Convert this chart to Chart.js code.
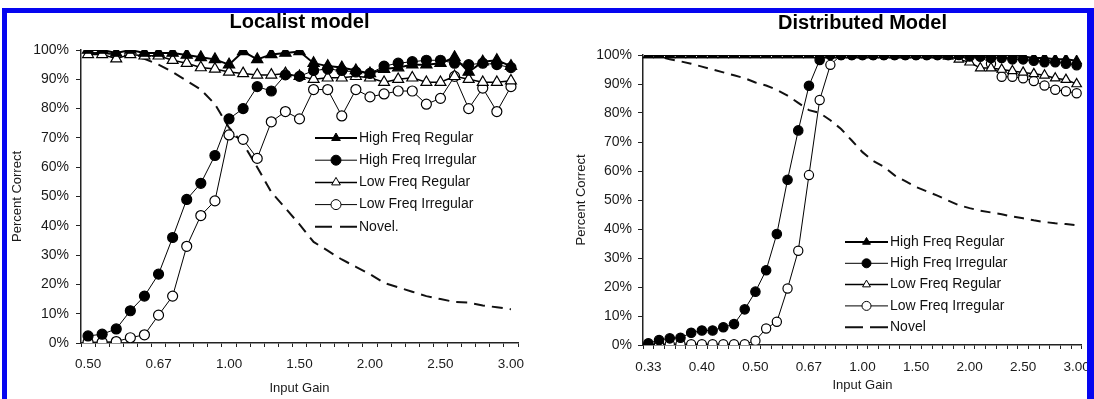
<!DOCTYPE html>
<html>
<head>
<meta charset="utf-8">
<script src="https://cdn.jsdelivr.net/npm/chart.js@4.4.0/dist/chart.umd.min.js"></script>
<style>
  html, body { margin: 0; padding: 0; background: #fff; }
  body { width: 1094px; height: 399px; position: relative; overflow: hidden; }
  .box { position: absolute; top: 0; height: 399px; }
  #left { left: 0; width: 545px; }
  #right { left: 545px; width: 555px; }
  .frame { position: absolute; background: #0505f0; }
</style>
</head>
<body>
<div class="box" id="left"><canvas id="localist"></canvas></div>
<div class="box" id="right"><canvas id="distributed"></canvas></div>
<div class="frame" style="left:2px;top:8px;width:1092px;height:5px"></div>
<div class="frame" style="left:2px;top:8px;width:5px;height:391px"></div>
<div class="frame" style="left:1087px;top:8px;width:7px;height:391px"></div>
<script>
// localist model (input gain 0.50 .. 3.00)
let locGain = ['0.50', '0.53', '0.56', '0.59', '0.63', '0.67', '0.71', '0.77', '0.83', '0.91',
  '1.00', '1.10', '1.20', '1.30', '1.40', '1.50', '1.60', '1.70', '1.80', '1.90',
  '2.00', '2.10', '2.20', '2.30', '2.40', '2.50', '2.60', '2.70', '2.80', '2.90', '3.00']
let locTickLabels = ['0.50', '0.67', '1.00', '1.50', '2.00', '2.50', '3.00']
let locHighReg = [100, 100, 99, 100, 99, 99, 99, 98.3, 97.5, 96.8, 95, 99.5, 96.8, 98.5, 99, 99.5,
  95.5, 94.5, 94, 93, 92, 93.5, 94, 95, 95, 95.5, 97.5, 92.5, 96, 96.5, 94.5]
let locHighIrreg = [2.4, 3, 4.8, 11, 16, 23.5, 36, 49, 54.5, 64, 76.5, 80, 87.5, 86, 91.5, 91,
  93, 93.5, 93, 92.5, 92, 94.5, 95.5, 96, 96.5, 96.5, 95.5, 95, 95.5, 95, 94]
let locLowReg = [98.5, 98.5, 97, 98.5, 98, 98, 96.5, 95.5, 94, 93.5, 92.5, 92, 91.5, 91.5, 92, 91,
  90, 90.5, 90.5, 91, 90.5, 89, 90, 90.5, 89, 89, 91, 90, 89, 89, 89.5]
let locLowIrreg = [0.3, 0.3, 0.5, 1.8, 2.8, 9.5, 16, 33, 43.5, 48.5, 71, 69.5, 63, 75.5, 79, 76.5,
  86.5, 86.5, 77.5, 86.5, 84, 85, 86, 86, 81.5, 83.5, 91, 80, 87, 79, 87.5]
let locNovel = [99, 99, 98.5, 98, 97, 95, 92.5, 89.5, 86.5, 81.5, 73.5, 68, 60, 51.5, 46, 40.5,
  34.5, 31.5, 28.5, 26, 23.5, 20.5, 19, 17.5, 16, 15, 14, 13.8, 12.8, 12.2, 11.5]

// distributed model (input gain 0.33 .. 3.00)
let distGain = ['0.33', '0.34', '0.36', '0.37', '0.38', '0.40', '0.42', '0.43', '0.45', '0.48',
  '0.50', '0.53', '0.56', '0.59', '0.63', '0.67', '0.71', '0.77', '0.83', '0.91',
  '1.00', '1.10', '1.20', '1.30', '1.40', '1.50', '1.60', '1.70', '1.80', '1.90',
  '2.00', '2.10', '2.20', '2.30', '2.40', '2.50', '2.60', '2.70', '2.80', '2.90', '3.00']
let distTickLabels = ['0.33', '0.40', '0.50', '0.67', '1.00', '1.50', '2.00', '2.50', '3.00']
let distHighReg = [100, 100, 100, 100, 100, 100, 100, 100, 100, 100, 100, 100, 100, 100, 100, 100,
  100, 100, 100, 100, 100, 100, 100, 100, 100, 100, 100, 100, 100, 100, 100, 100, 100, 100, 100,
  99.5, 99, 99, 98.5, 98.5, 98]
let distHighIrreg = [0.6, 1.7, 2.3, 2.5, 4.2, 5, 5, 6.1, 7.2, 12.3, 18.4, 25.8, 38.3, 57, 74, 89.4,
  98.3, 100, 100, 100, 100, 100, 100, 100, 100, 100, 100, 100, 100, 100, 99.5, 99.5, 99, 99, 98.5,
  98.5, 98, 97.5, 97.5, 97, 96.5]
let distLowReg = [100, 100, 100, 100, 100, 100, 100, 100, 100, 100, 100, 100, 100, 100, 100, 100,
  100, 100, 100, 100, 100, 100, 100, 100, 100, 100, 100, 100, 99.5, 98.5, 97.5, 95.5, 95.5, 95, 94.5,
  94, 93.5, 93, 92, 91.5, 90]
let distLowIrreg = [0, 0.3, 0.3, 0.3, 0.3, 0.3, 0.3, 0.3, 0.3, 0.3, 1.5, 5.7, 8, 19.5, 32.5, 58.6,
  84.5, 96.6, 100, 100, 100, 100, 100, 100, 100, 100, 100, 100, 100, 100, 100, 99.5, 97, 92.5, 92.5,
  92, 91, 89.5, 88, 87.5, 86.8]
let distNovel = [100, 99.5, 98.5, 97.8, 97, 96, 95, 94, 93, 92, 90.5, 89.5, 88, 86, 83.5, 81,
  80, 77.5, 74.5, 70.5, 66.5, 63.5, 61.5, 58.5, 56.5, 54.5, 53, 51.5, 49.8, 48.2, 47.2, 46.3, 45.7,
  45.1, 44.3, 43.7, 43, 42.4, 42, 41.7, 41.3]

Chart.defaults.font.family = '"Liberation Sans", Arial, sans-serif'
Chart.defaults.color = '#1a1a1a'

function drawMarker (ctx, style, r, x, y) {
  ctx.beginPath()
  if (style === 'triangle') {
    ctx.moveTo(x, y - r)
    ctx.lineTo(x + r * 0.866, y + r * 0.5)
    ctx.lineTo(x - r * 0.866, y + r * 0.5)
    ctx.closePath()
  } else {
    ctx.arc(x, y, r, 0, Math.PI * 2)
  }
  ctx.fill()
  ctx.stroke()
}

// legend drawn inside the plot area
const innerLegend = {
  id: 'innerLegend',
  afterDatasetsDraw (chart, args, opts) {
    const ctx = chart.ctx
    ctx.save()
    ctx.font = opts.font
    ctx.textBaseline = 'middle'
    chart.data.datasets.forEach(function (ds, i) {
      let y = opts.y + i * opts.rowHeight
      ctx.strokeStyle = ds.borderColor
      ctx.lineWidth = ds.borderWidth
      ctx.setLineDash(ds.borderDash ? opts.dash : [])
      ctx.beginPath()
      ctx.moveTo(opts.x, y)
      ctx.lineTo(opts.x + opts.lineLength, y)
      ctx.stroke()
      ctx.setLineDash([])
      if (ds.pointRadius > 0) {
        ctx.fillStyle = ds.pointBackgroundColor
        ctx.strokeStyle = '#000'
        ctx.lineWidth = 1
        drawMarker(ctx, ds.pointStyle, opts.markerRadius, opts.x + opts.lineLength / 2, y)
      }
      ctx.fillStyle = '#111'
      ctx.fillText(ds.label, opts.x + opts.lineLength + opts.gap, y)
    })
    ctx.restore()
  }
}

function series (label, data, style, filled, width, radius) {
  return {
    label: label,
    data: data,
    borderColor: '#000',
    borderWidth: width,
    pointStyle: style,
    pointRadius: radius,
    pointBackgroundColor: filled ? '#000' : '#fff',
    pointBorderColor: '#000',
    pointBorderWidth: 1.2,
    tension: 0
  }
}

function novel (label, data, dash) {
  return {
    label: label,
    data: data,
    borderColor: '#111',
    borderWidth: 2,
    borderDash: dash,
    pointRadius: 0,
    tension: 0
  }
}

function makeChart (id, cfg) {
  let ctx = document.getElementById(id).getContext('2d')
  return new Chart(ctx, {
    type: 'line',
    data: {
      labels: cfg.labels,
      datasets: cfg.datasets
    },
    plugins: [innerLegend],
    options: {
      responsive: true,
      maintainAspectRatio: false,
      animation: false,
      devicePixelRatio: 1,
      layout: { padding: cfg.padding },
      plugins: {
        legend: { display: false },
        tooltip: { enabled: false },
        title: {
          display: true,
          text: cfg.title,
          fullSize: false,
          color: '#000',
          font: { size: 20, weight: 'bold' },
          padding: cfg.titlePadding
        },
        innerLegend: cfg.legend
      },
      scales: {
        x: {
          type: 'category',
          offset: true,
          grid: { offset: true, drawOnChartArea: false, drawTicks: true, tickLength: 4, color: '#222' },
          border: { color: '#222', width: 1.5 },
          ticks: {
            autoSkip: false,
            maxRotation: 0,
            minRotation: 0,
            padding: cfg.xTickPad,
            font: { size: 13.5 },
            callback: function (v) {
              let lab = this.getLabelForValue(v)
              return cfg.tickLabels.includes(lab) ? lab : ''
            }
          },
          title: { display: true, text: 'Input Gain', font: { size: 13 }, padding: { top: 0, bottom: cfg.xTitlePad } },
          afterFit: function (scale) { scale.height = cfg.xHeight }
        },
        y: {
          min: 0,
          max: 100,
          grid: { drawOnChartArea: false, drawTicks: true, tickLength: 5, color: '#222' },
          border: { color: '#222', width: 1.5 },
          ticks: {
            stepSize: 10,
            padding: cfg.yTickPad,
            font: { size: 14 },
            callback: function (v) { return v + '%' }
          },
          title: { display: true, text: 'Percent Correct', font: { size: 13 }, padding: { top: 0, bottom: 0 } },
          afterFit: function (scale) { scale.width = cfg.yWidth }
        }
      }
    }
  })
}

makeChart('localist', {
  title: 'Localist model',
  labels: locGain,
  tickLabels: locTickLabels,
  datasets: [
    series('High Freq Regular', locHighReg, 'triangle', true, 2, 6.5),
    series('High Freq Irregular', locHighIrreg, 'circle', true, 1, 5),
    series('Low Freq Regular', locLowReg, 'triangle', false, 1.5, 6.3),
    series('Low Freq Irregular', locLowIrreg, 'circle', false, 1, 5),
    novel('Novel.', locNovel, [11, 7])
  ],
  padding: { left: 10, right: 27, top: 0, bottom: 0 },
  titlePadding: { top: 10, bottom: 16 },
  xHeight: 56,
  xTickPad: 9,
  xTitlePad: 3,
  yWidth: 71,
  yTickPad: 7,
  legend: { x: 315, y: 138, rowHeight: 22.2, lineLength: 42, gap: 2, markerRadius: 5, dash: [17, 8], font: '14px "Liberation Sans", Arial, sans-serif' }
})

makeChart('distributed', {
  title: 'Distributed Model',
  labels: distGain,
  tickLabels: distTickLabels,
  datasets: [
    series('High Freq Regular', distHighReg, 'triangle', true, 2, 5.5),
    series('High Freq Irregular', distHighIrreg, 'circle', true, 1, 4.7),
    series('Low Freq Regular', distLowReg, 'triangle', false, 1.5, 5.5),
    series('Low Freq Irregular', distLowIrreg, 'circle', false, 1, 4.6),
    novel('Novel', distNovel, [10, 7])
  ],
  padding: { left: 29, right: 0, top: 0, bottom: 0 },
  titlePadding: { top: 11, bottom: 20 },
  xHeight: 54,
  xTickPad: 10,
  xTitlePad: 6,
  yWidth: 69,
  yTickPad: 6,
  legend: { x: 300, y: 242, rowHeight: 21.3, lineLength: 43, gap: 2, markerRadius: 4.5, dash: [18, 7], font: '14px "Liberation Sans", Arial, sans-serif' }
})
</script>
</body>
</html>
